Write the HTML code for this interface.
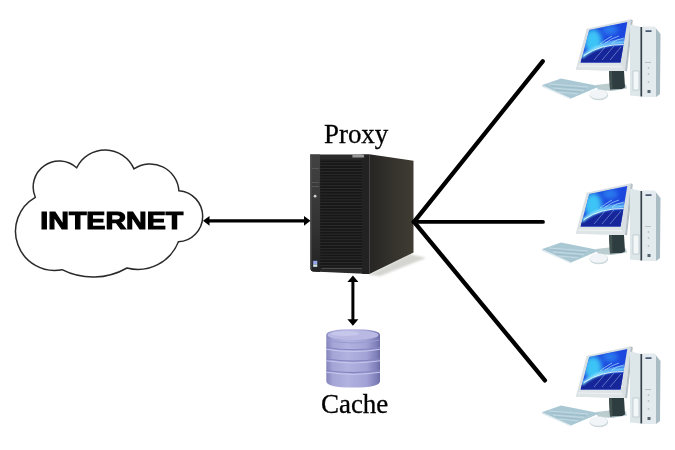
<!DOCTYPE html>
<html><head><meta charset="utf-8">
<style>
html,body{margin:0;padding:0;background:#fff;width:675px;height:450px;overflow:hidden}
svg{display:block}
</style></head>
<body>
<svg width="675" height="450" viewBox="0 0 675 450">
<defs>
  <linearGradient id="cyl" x1="0" x2="1" y1="0" y2="0">
    <stop offset="0" stop-color="#8484bc"/>
    <stop offset="0.12" stop-color="#a4a4d6"/>
    <stop offset="0.4" stop-color="#b2b2e0"/>
    <stop offset="0.75" stop-color="#a2a2d6"/>
    <stop offset="0.92" stop-color="#8282bc"/>
    <stop offset="1" stop-color="#6c6ca6"/>
  </linearGradient>
  <linearGradient id="scr" x1="0" y1="0" x2="1" y2="1">
    <stop offset="0" stop-color="#38c4f2"/>
    <stop offset="0.35" stop-color="#1f6fe6"/>
    <stop offset="0.6" stop-color="#1638d8"/>
    <stop offset="1" stop-color="#0a1e80"/>
  </linearGradient>
  <linearGradient id="side" x1="0" x2="1">
    <stop offset="0" stop-color="#262523"/>
    <stop offset="0.5" stop-color="#34322c"/>
    <stop offset="1" stop-color="#403c33"/>
  </linearGradient>
  <clipPath id="scrclip"><polygon points="589.3,30 627.3,22 620.5,62.5 580.6,62.5"/></clipPath>
  <filter id="b1" x="-50%" y="-50%" width="200%" height="200%"><feGaussianBlur stdDeviation="0.8"/></filter>
  <filter id="b2" x="-50%" y="-50%" width="200%" height="200%"><feGaussianBlur stdDeviation="2.5"/></filter>
  <filter id="gray" x="0" y="0" width="100%" height="100%"><feOffset dx="0" dy="0"/></filter>
  <filter id="soft" x="-5%" y="-5%" width="110%" height="110%"><feGaussianBlur stdDeviation="0.35"/></filter>
  <linearGradient id="lstrip" x1="0" y1="0" x2="0" y2="1"><stop offset="0" stop-color="#424242"/><stop offset="0.6" stop-color="#333"/><stop offset="1" stop-color="#222"/></linearGradient>
  <filter id="blur" x="-50%" y="-50%" width="200%" height="200%"><feGaussianBlur stdDeviation="3"/></filter>
  <g id="pc" filter="url(#soft)">
    <!-- stand base -->
    <polygon points="596,85 609,83.5 626,84.5 627,88.5 612,91 598,90" fill="#bccdd0"/>
    <!-- stand neck -->
    <polygon points="609,71 624,71 625,87.5 622,89 610,89.5" fill="#2e3d40"/>
    <polygon points="609,71 612,71 612.5,89 610,89.5" fill="#42524f"/>
    <!-- keyboard -->
    <polygon points="541.7,85.2 561,78.6 600,86.3 571,98.4" fill="#aac8d4"/>
    <polygon points="541.7,85.2 571,98.4 571.5,99.8 541.8,86.8" fill="#dfeaee"/>
    <g stroke="#c6dae3" stroke-width="0.9">
      <line x1="549" y1="84" x2="588" y2="87"/>
      <line x1="553" y1="88" x2="584" y2="90.5"/>
      <line x1="558" y1="92" x2="578" y2="93.8"/>
    </g>
    <g stroke="#8fb0be" stroke-width="0.5">
      <line x1="551" y1="85.8" x2="586" y2="88.8"/>
      <line x1="556" y1="90" x2="581" y2="92.2"/>
    </g>
    <!-- mouse -->
    <ellipse cx="598.8" cy="95" rx="9.4" ry="5.3" fill="#cdd8dc"/>
    <ellipse cx="598.4" cy="94.2" rx="8.8" ry="4.6" fill="#f1f5f7"/>
    <!-- monitor bezel -->
    <polygon points="586.7,28.7 630.7,19.3 625,71 575.8,69.8" fill="#d9e0e3"/>
    <polygon points="630.7,19.3 632.8,20.2 627,71.3 625,71" fill="#b3bfc4"/>
    <polygon points="580.6,62.5 620.5,62.5 625,71 575.8,69.8" fill="#dfe5e7"/>
    <line x1="578" y1="66" x2="622" y2="66.8" stroke="#eef2f3" stroke-width="1"/>
    <!-- screen -->
    <g clip-path="url(#scrclip)">
      <rect x="578" y="20" width="52" height="44" fill="#1c46de"/>
      <ellipse cx="593" cy="41" rx="9" ry="12" fill="#3cc4f6" filter="url(#b2)"/>
      <ellipse cx="610" cy="30" rx="8" ry="5" fill="#2a7aee" filter="url(#b2)"/>
      <path d="M578,59 Q596,44 630,46 L630,66 L578,66 Z" fill="#12289a" filter="url(#b1)"/>
      <path d="M582,57 Q598,43 626,42" stroke="#7ee0ff" stroke-width="3.2" fill="none" filter="url(#b1)"/>
      <path d="M584,55.5 Q600,44 625,44.5" stroke="#eafcff" stroke-width="0.9" fill="none"/>
      <path d="M590,52 Q604,40 626,39" stroke="#8ee6ff" stroke-width="0.6" fill="none" opacity="0.8"/>
      <path d="M600,44 Q605,40 612,36 M605,43 Q612,38 619,36 M612,43 Q617,39 624,38" stroke="#bff0ff" stroke-width="0.7" fill="none" opacity="0.9"/>
      <path d="M594,60 L606,46 M602,60 L614,46 M610,60 L621,47" stroke="#b8e8ff" stroke-width="0.6" fill="none" opacity="0.7"/>
    </g>
    <!-- tower left face -->
    <polygon points="630,24.5 640.4,26.8 640.4,96.4 630,95.4" fill="#dde7ea"/>
    <rect x="633" y="71" width="6" height="19" fill="#f4f7f8" stroke="#aab8be" stroke-width="0.6"/>
    <!-- stripe -->
    <rect x="640.4" y="27" width="2" height="69.5" fill="#34414b"/>
    <!-- front face -->
    <polygon points="642.4,26.4 654.5,26.4 656,29 656,97 642.4,97" fill="#e3ebee"/>
    <!-- right face -->
    <polygon points="654.5,26.4 660.5,34 660,94 656,97 656,29" fill="#a9bcc4"/>
    <rect x="645.5" y="30.3" width="6" height="1.6" fill="#3e4c66"/>
    <rect x="645" y="62" width="6" height="0.8" fill="#aab6bc"/>
    <circle cx="648.5" cy="68" r="0.9" fill="#b7c3c9"/>
    <circle cx="648.5" cy="74" r="0.9" fill="#b7c3c9"/>
    <circle cx="648.5" cy="82" r="0.9" fill="#b7c3c9"/>
    <rect x="647.5" y="90" width="3" height="3" fill="#55636c"/>
  </g>
</defs>

<!-- cloud -->
<path d="M35.3,197.3 A26.0,26.0 0 0 1 76.7,167.8 A31.5,31.5 0 0 1 134,168.9 A28.8,28.8 0 0 1 178.9,190.7 A25.6,25.6 0 0 1 178.4,241.8 A43.5,43.5 0 0 1 127,268 A68.7,68.7 0 0 1 62,269.7 A39.1,39.1 0 0 1 35.3,197.3 Z" fill="#fff" stroke="#2a2a2a" stroke-width="1.5"/>
<g filter="url(#gray)"><text x="40.3" y="229.4" font-family="Liberation Sans" font-weight="bold" font-size="24.7" fill="#000" stroke="#000" stroke-width="1.2" textLength="143" lengthAdjust="spacingAndGlyphs">INTERNET</text></g>

<!-- horizontal arrow -->
<line x1="208" y1="220.9" x2="305" y2="220.9" stroke="#000" stroke-width="3.4"/>
<polygon points="203,220.8 209.5,215.9 209.5,225.7" fill="#000"/>
<polygon points="310.5,220.8 304,215.9 304,225.7" fill="#000"/>

<!-- server -->
<polygon points="410,254 426,258 380,276 368,275" fill="#d4d4d0" filter="url(#b1)"/>
<polygon points="369.3,154.3 413.5,160.8 413.5,252.5 369.3,274" fill="url(#side)"/>
<path d="M310.4,154.5 L369.3,154.5 L369.3,274 L313,271.6 Q310.6,271.3 310.6,269 Z" fill="#2a2a2a"/>
<path d="M310.4,154.5 L320,154.5 L320,271.9 L313,271.6 Q310.6,271.3 310.6,269 Z" fill="url(#lstrip)"/>
<rect x="310.4" y="154.5" width="1.2" height="115" fill="#4c4c4c"/>
<rect x="320.4" y="159.3" width="41.8" height="110" fill="#171717"/>
<g fill="#2e2e2e"><rect x="320.4" y="159.5" width="41.8" height="0.9"/><rect x="320.4" y="162.3" width="41.8" height="0.9"/><rect x="320.4" y="165.2" width="41.8" height="0.9"/><rect x="320.4" y="168.1" width="41.8" height="0.9"/><rect x="320.4" y="170.9" width="41.8" height="0.9"/><rect x="320.4" y="173.8" width="41.8" height="0.9"/><rect x="320.4" y="176.6" width="41.8" height="0.9"/><rect x="320.4" y="179.4" width="41.8" height="0.9"/><rect x="320.4" y="182.3" width="41.8" height="0.9"/><rect x="320.4" y="185.2" width="41.8" height="0.9"/><rect x="320.4" y="188.0" width="41.8" height="0.9"/><rect x="320.4" y="190.8" width="41.8" height="0.9"/><rect x="320.4" y="193.7" width="41.8" height="0.9"/><rect x="320.4" y="196.6" width="41.8" height="0.9"/><rect x="320.4" y="199.4" width="41.8" height="0.9"/><rect x="320.4" y="202.2" width="41.8" height="0.9"/><rect x="320.4" y="205.1" width="41.8" height="0.9"/><rect x="320.4" y="207.9" width="41.8" height="0.9"/><rect x="320.4" y="210.8" width="41.8" height="0.9"/><rect x="320.4" y="213.7" width="41.8" height="0.9"/><rect x="320.4" y="216.5" width="41.8" height="0.9"/><rect x="320.4" y="219.3" width="41.8" height="0.9"/><rect x="320.4" y="222.2" width="41.8" height="0.9"/><rect x="320.4" y="225.1" width="41.8" height="0.9"/><rect x="320.4" y="227.9" width="41.8" height="0.9"/><rect x="320.4" y="230.8" width="41.8" height="0.9"/><rect x="320.4" y="233.6" width="41.8" height="0.9"/><rect x="320.4" y="236.4" width="41.8" height="0.9"/><rect x="320.4" y="239.3" width="41.8" height="0.9"/><rect x="320.4" y="242.2" width="41.8" height="0.9"/><rect x="320.4" y="245.0" width="41.8" height="0.9"/><rect x="320.4" y="247.9" width="41.8" height="0.9"/><rect x="320.4" y="250.7" width="41.8" height="0.9"/><rect x="320.4" y="253.6" width="41.8" height="0.9"/><rect x="320.4" y="256.4" width="41.8" height="0.9"/><rect x="320.4" y="259.2" width="41.8" height="0.9"/><rect x="320.4" y="262.1" width="41.8" height="0.9"/><rect x="320.4" y="264.9" width="41.8" height="0.9"/></g>
<rect x="321.3" y="267.8" width="41" height="1.2" fill="#4a4a4a"/>
<rect x="362.2" y="154.5" width="7.1" height="119.5" fill="#222"/>
<rect x="352.4" y="154.7" width="11.7" height="2.8" fill="#9a9a9a"/>
<rect x="312" y="168" width="7" height="1" fill="#555"/>
<rect x="312" y="182" width="7" height="1" fill="#555"/>
<rect x="312" y="186" width="7" height="1" fill="#555"/>
<circle cx="315.1" cy="196.2" r="1.4" fill="#cfcfcf"/>
<rect x="312.6" y="260.3" width="5.2" height="7" fill="#2a3550"/>
<rect x="313.2" y="260.9" width="4" height="3.4" fill="#9aa4ea"/>
<rect x="313.2" y="264.4" width="4" height="2.4" fill="#d6e4dc"/>

<!-- vertical arrow -->
<line x1="352.9" y1="281" x2="352.9" y2="320" stroke="#000" stroke-width="3"/>
<polygon points="352.9,275.6 347.4,282 358.4,282" fill="#000"/>
<polygon points="352.9,325.7 347.4,319.3 358.4,319.3" fill="#000"/>

<!-- cylinder -->
<g filter="url(#soft)">
<path d="M326.3,335 Q326.3,329.3 353,329.3 Q380,329.3 380,335 L380,381 Q380,387.6 353,387.6 Q326.3,387.6 326.3,381 Z" fill="url(#cyl)"/>
<ellipse cx="353" cy="335" rx="25.5" ry="5" fill="#b9b9e4"/>
<ellipse cx="345" cy="333.5" rx="14" ry="2.5" fill="#cdcdf0" opacity="0.7"/>
<path d="M327,340 Q353,346 379.5,340" stroke="#9a9ad0" stroke-width="1" fill="none"/>
<g fill="none">
<path d="M326.5,347.5 Q353,352 380,347.5" stroke="#8585c0" stroke-width="1.2"/>
<path d="M326.5,349.3 Q353,353.8 380,349.3" stroke="#c6c6ee" stroke-width="1.1"/>
<path d="M326.5,359 Q353,363.3 380,359" stroke="#8585c0" stroke-width="1.2"/>
<path d="M326.5,360.8 Q353,365.1 380,360.8" stroke="#c6c6ee" stroke-width="1.1"/>
<path d="M326.5,370.5 Q353,374.8 380,370.5" stroke="#8585c0" stroke-width="1.2"/>
<path d="M326.5,372.3 Q353,376.6 380,372.3" stroke="#c6c6ee" stroke-width="1.1"/>
</g>
</g>

<!-- lines -->
<g stroke="#000" stroke-linecap="round">
<line x1="414" y1="221.8" x2="542.7" y2="61.3" stroke-width="4.3"/>
<line x1="413.5" y1="221.9" x2="543" y2="221.9" stroke-width="3.8"/>
<line x1="414" y1="221.8" x2="544.9" y2="380.4" stroke-width="4.3"/>
</g>

<!-- labels -->
<g filter="url(#gray)">
<text x="324" y="142.5" font-family="Liberation Serif" font-size="26.9" fill="#000" stroke="#000" stroke-width="0.3">Proxy</text>
<text x="320.9" y="412.8" font-family="Liberation Serif" font-size="27" fill="#000" stroke="#000" stroke-width="0.3">Cache</text>
</g>

<use href="#pc"/>
<use href="#pc" transform="translate(0,164)"/>
<use href="#pc" transform="translate(0,327)"/>
</svg>
</body></html>
